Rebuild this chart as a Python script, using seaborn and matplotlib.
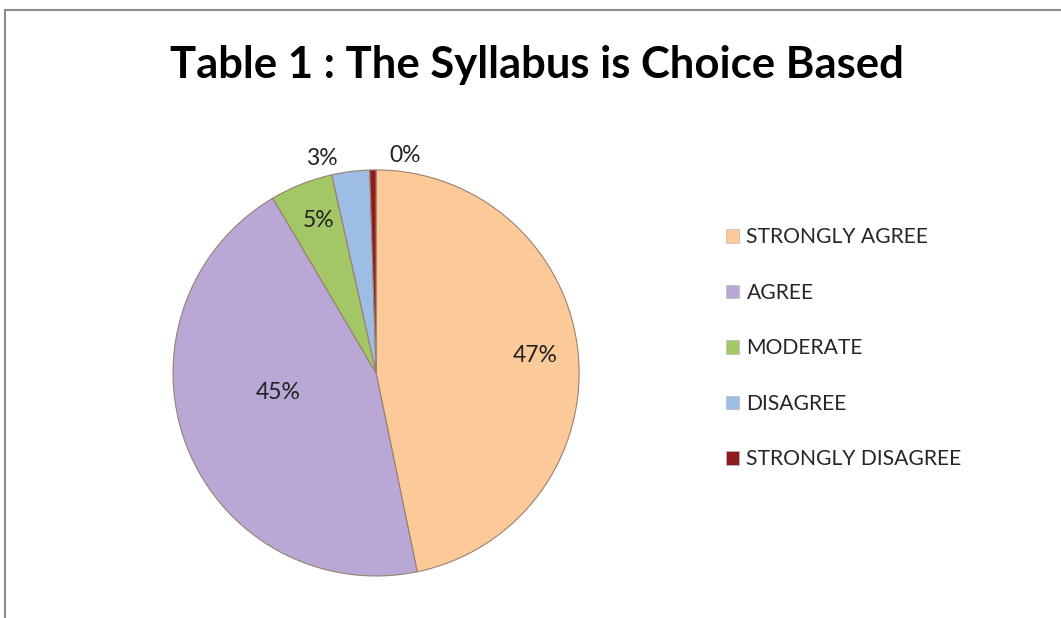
import numpy as np
import matplotlib
matplotlib.use("Agg")
import matplotlib.pyplot as plt
import seaborn as sns

#data
categories = ["STRONGLY AGREE", "AGREE", "MODERATE", "DISAGREE", "STRONGLY DISAGREE"]
shares = [46.8, 44.8, 5.0, 3.0, 0.5]
pct_labels = ["47%", "45%", "5%", "3%", "0%"]
title = "Table 1 : The Syllabus is Choice Based"

#style
sns.set_theme(style="white")
plt.rcParams['font.family'] = ['Lato', 'DejaVu Sans']
colors = ["#FCCA98", "#B9A7D5", "#A3C766", "#9DBDE6", "#8E1C1C"]

fig = plt.figure(figsize=(10.61, 6.18), dpi=100)
fig.patch.set_facecolor("white")

#chart border (top and left visible)
fig.add_artist(plt.Line2D([5/1061, 1], [1-10/618, 1-10/618], transform=fig.transFigure,
                          color="#8c8c8c", lw=1.5))
fig.add_artist(plt.Line2D([5/1061, 5/1061], [0, 1-10/618], transform=fig.transFigure,
                          color="#8c8c8c", lw=1.5))

#pie axes
ax = fig.add_axes([0.1631, 0.068, 0.3827, 0.657])
wedges, _ = ax.pie(shares, colors=colors, startangle=90, counterclock=False,
                   wedgeprops=dict(edgecolor="#9a8070", linewidth=0.8))
ax.set_xlim(-1, 1)
ax.set_ylim(-1, 1)
ax.set_aspect("auto")

#label positions (radius, extra angle) per slice
label_pos = [(0.79, 0.5), (0.49, -10), (0.80, -1), (1.09, 7), (1.08, -8.4)]
for w, lab, (r, da) in zip(wedges, pct_labels, label_pos):
    ang = np.deg2rad((w.theta1 + w.theta2) / 2 + da)
    ax.text(r * np.cos(ang), r * np.sin(ang), lab, ha="center", va="center",
            fontsize=16.5, color="#222222", clip_on=False)

#title
fig.text(537/1061, 1 - 65/618, title, ha="center", va="center", fontsize=31.4,
         fontweight="bold", color="black")

#legend
leg = fig.legend(wedges, categories, loc="upper left", bbox_to_anchor=(718/1061, 1 - 219/618),
                 frameon=False, fontsize=15.2, handlelength=0.6, handleheight=0.6,
                 handletextpad=0.35, labelspacing=1.68, borderaxespad=0)
for h in leg.legend_handles:
    h.set_edgecolor("#bbbbbb")
    h.set_linewidth(0.5)

plt.savefig("out.png", dpi=100)
